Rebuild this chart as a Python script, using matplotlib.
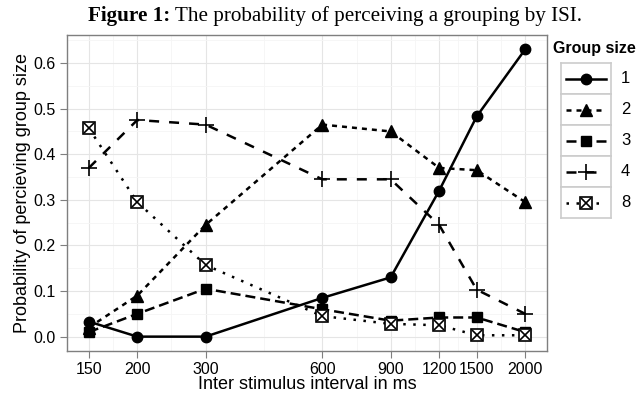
import matplotlib
matplotlib.use("Agg")
import matplotlib.pyplot as plt
import numpy as np

# data
isi = [150, 200, 300, 600, 900, 1200, 1500, 2000]
group_sizes = ["1", "2", "3", "4", "8"]
p_g1 = [0.033, 0.000, 0.000, 0.085, 0.130, 0.320, 0.483, 0.630]
p_g2 = [0.020, 0.090, 0.245, 0.465, 0.450, 0.370, 0.365, 0.295]
p_g3 = [0.010, 0.050, 0.105, 0.060, 0.035, 0.042, 0.042, 0.010]
p_g4 = [0.370, 0.475, 0.465, 0.345, 0.345, 0.245, 0.103, 0.050]
p_g8 = [0.457, 0.295, 0.157, 0.045, 0.028, 0.025, 0.003, 0.003]
series = [p_g1, p_g2, p_g3, p_g4, p_g8]

plt.rcParams["font.family"] = ["Liberation Sans", "DejaVu Sans"]

# ggplot-like linetypes: solid, 22, 42, 44, 13
styles = [
    dict(ls="-", marker="o", ms=7.5),
    dict(dashes=(2, 2), marker="^", ms=8),
    dict(dashes=(4, 2), marker="s", ms=7),
    dict(dashes=(4, 4), marker="+", ms=12, mew=1.2),
    dict(dashes=(1, 3), marker="s", ms=8, mfc="white", mew=1.2),
]

fig = plt.figure(figsize=(6.37, 3.94), dpi=100)
ax = fig.add_axes([67 / 637, 1 - 351 / 394, 480 / 637, 316 / 394])

lw = 1.8
for vals, st in zip(series, styles):
    st = dict(st)
    ax.plot(isi, vals, color="black", lw=lw, mec="black",
            **({"mfc": "black"} if "mfc" not in st else {}), **st)
# cross inside the box for group 8
ax.plot(isi, p_g8, ls="none", marker="x", ms=6.5, mew=1.2, color="black")

ax.set_xscale("log")
lo, hi = np.log(isi[0]), np.log(isi[-1])
pad = 0.05 * (hi - lo)
ax.set_xlim(np.exp(lo - pad), np.exp(hi + pad))
ax.set_ylim(-0.0315, 0.6615)
ax.set_xticks(isi)
ax.set_xticklabels([str(v) for v in isi])
mids = [np.sqrt(a * b) for a, b in zip(isi[:-1], isi[1:])]
ax.set_xticks(mids, minor=True)
ax.set_xticklabels([], minor=True)
ax.set_yticks(np.arange(0, 0.61, 0.1))
ax.set_yticklabels(["%.1f" % v for v in np.arange(0, 0.61, 0.1)])
ax.set_yticks(np.arange(0.05, 0.66, 0.1), minor=True)

ax.grid(True, which="major", color="#e5e5e5", lw=0.8)
ax.grid(True, which="minor", color="#f5f5f5", lw=0.6)
ax.set_axisbelow(True)
for s in ax.spines.values():
    s.set_color("#7f7f7f")
    s.set_linewidth(1.0)
ax.tick_params(which="major", direction="out", length=5, color="#7f7f7f",
               labelsize=11.5, labelcolor="black", pad=3)
ax.tick_params(which="minor", length=0)

ax.set_xlabel("Inter stimulus interval in ms", fontsize=13, labelpad=-1)
ax.set_ylabel("Probability of percieving group size", fontsize=13, labelpad=2)

# title in serif, bold prefix
t1 = fig.text(88 / 637, 1 - 26 / 394, "Figure 1:", family="Liberation Serif",
              fontsize=15.2, fontweight="bold", va="bottom", ha="left")
fig.canvas.draw()
ax.annotate(" The probability of perceiving a grouping by ISI.", xy=(1, 0),
            xycoords=t1, va="bottom", ha="left", family="Liberation Serif",
            fontsize=15.2, annotation_clip=False)

# legend drawn as ggplot-style key cells
fig.text(553 / 637, 1 - 48 / 394, "Group size", fontsize=11.5,
         fontweight="bold", va="center", ha="left")
key_w, key_h = 50, 31
for i, (g, st) in enumerate(zip(group_sizes, styles)):
    top = 63 + i * key_h
    kax = fig.add_axes([561 / 637, 1 - (top + key_h) / 394,
                        key_w / 637, key_h / 394])
    kax.set_xlim(0, 1)
    kax.set_ylim(0, 1)
    kax.set_xticks([])
    kax.set_yticks([])
    for s in kax.spines.values():
        s.set_color("#cccccc")
        s.set_linewidth(1.2)
    st = dict(st)
    mk = {k: st.pop(k) for k in ["marker", "ms", "mew", "mfc"] if k in st}
    kax.plot([0.1, 0.9], [0.5, 0.5], color="black", lw=lw, **st)
    kax.plot([0.5], [0.5], ls="none", color="black", mec="black",
             mfc=mk.get("mfc", "black"), marker=mk["marker"], ms=mk["ms"],
             mew=mk.get("mew", 1.0))
    if g == "8":
        kax.plot([0.5], [0.5], ls="none", marker="x", ms=6.5, mew=1.2,
                 color="black")
    fig.text(621 / 637, 1 - (top + key_h / 2) / 394, g, fontsize=12,
             va="center", ha="left")

fig.savefig("out.png", dpi=100)
